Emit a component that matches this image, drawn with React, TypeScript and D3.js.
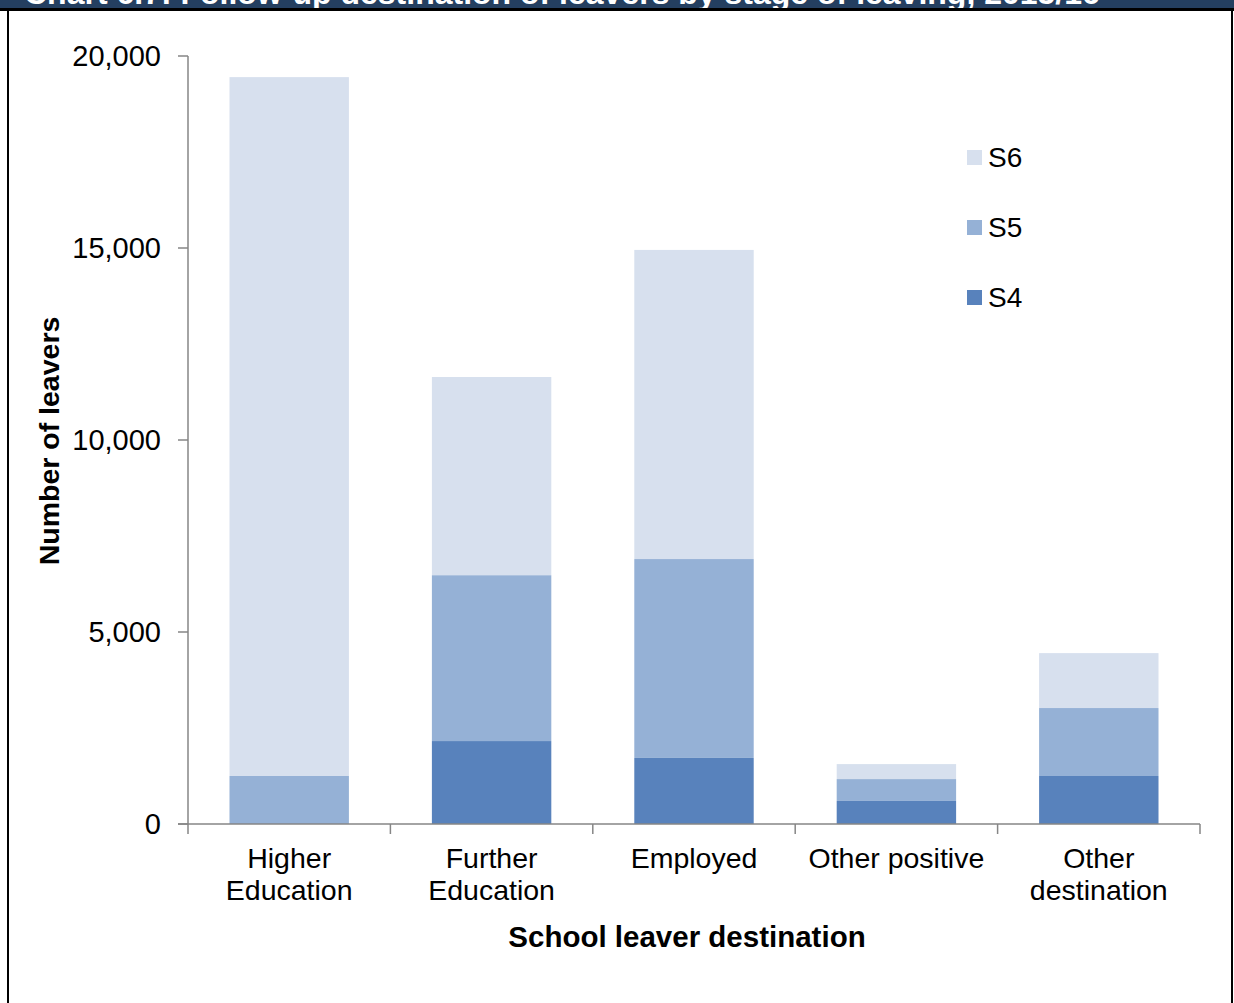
import React from "react";
import * as d3 from "d3";

// Follow-up destinations of school leavers, split by stage of leaving
const categories = [
  ["Higher", "Education"],
  ["Further", "Education"],
  ["Employed"],
  ["Other positive"],
  ["Other", "destination"],
];
const categoryKeys = ["Higher Education", "Further Education", "Employed", "Other positive", "Other destination"];
const seriesNames = ["S4", "S5", "S6"];
const s4Values = [0, 2160, 1720, 600, 1250];
const s5Values = [1250, 4320, 5180, 570, 1770];
const s6Values = [18200, 5160, 8050, 390, 1430];
const yTicks = [0, 5000, 10000, 15000, 20000];
const seriesColors = ["#5882bc", "#95b1d6", "#d7e0ee"];

const W = 1234;
const H = 1003;
const FONT = "'Liberation Sans', Arial, sans-serif";

export default function App() {
  const x0 = 188;
  const x1 = 1200;
  const yTop = 56;
  const yBottom = 824;

  const x = d3.scaleBand<string>().domain(categoryKeys).range([x0, x1]).paddingInner(0.41).paddingOuter(0.205);
  const y = d3.scaleLinear().domain([0, 20000]).range([yBottom, yTop]);

  const rows = categoryKeys.map((k, i) => ({ key: k, S4: s4Values[i], S5: s5Values[i], S6: s6Values[i] }));
  const stacked = d3.stack<any>().keys(seriesNames)(rows);
  const fmt = d3.format(",");
  const step = (x1 - x0) / categoryKeys.length;
  const boundaries = d3.range(categoryKeys.length + 1).map((i) => x0 + i * step);

  const legendItems = [...seriesNames].reverse();

  return (
    <svg width={W} height={H} style={{ display: "block", position: "absolute", left: 0, top: 0 }} fontFamily={FONT}>
      <rect x={0} y={0} width={W} height={H} fill="#ffffff" />
      {/* title bar */}
      <rect x={0} y={0} width={W} height={9} fill="#243f60" />
      <text x={24} y={4} fill="#ffffff" fontSize={32} fontWeight="bold">
        Chart 6.7: Follow-up destination of leavers by stage of leaving, 2015/16
      </text>
      <rect x={0} y={8} width={W} height={3} fill="#000000" />
      <rect x={7} y={8} width={2} height={H - 8} fill="#000000" />
      <rect x={1231} y={8} width={2} height={H - 8} fill="#000000" />

      {/* bars */}
      {stacked.map((layer, si) => (
        <g key={seriesNames[si]} fill={seriesColors[si]}>
          {layer.map((d, i) => (
            <rect
              key={i}
              x={x(categoryKeys[i])}
              y={y(d[1])}
              width={x.bandwidth()}
              height={Math.max(0, y(d[0]) - y(d[1]))}
            />
          ))}
        </g>
      ))}

      {/* y axis */}
      <line x1={x0} x2={x0} y1={yTop} y2={yBottom} stroke="#868686" strokeWidth={1.5} />
      {yTicks.map((t) => (
        <g key={t}>
          <line x1={178} x2={x0} y1={y(t)} y2={y(t)} stroke="#868686" strokeWidth={1.5} />
          <text x={161} y={y(t) + 10} textAnchor="end" fontSize={29} fill="#000">
            {fmt(t)}
          </text>
        </g>
      ))}

      {/* x axis */}
      <line x1={178} x2={x1} y1={yBottom} y2={yBottom} stroke="#868686" strokeWidth={1.5} />
      {boundaries.map((b, i) => (
        <line key={i} x1={b} x2={b} y1={yBottom} y2={yBottom + 10} stroke="#868686" strokeWidth={1.5} />
      ))}
      {categories.map((lines, i) => (
        <text key={i} textAnchor="middle" fontSize={28.5} fill="#000">
          {lines.map((l, j) => (
            <tspan key={j} x={(x(categoryKeys[i]) as number) + x.bandwidth() / 2} y={868 + j * 32}>
              {l}
            </tspan>
          ))}
        </text>
      ))}

      {/* axis titles */}
      <text x={687} y={947} textAnchor="middle" fontSize={29.5} fontWeight="bold" fill="#000">
        School leaver destination
      </text>
      <text
        transform={`translate(59, 441) rotate(-90)`}
        textAnchor="middle"
        fontSize={28.5}
        fontWeight="bold"
        fill="#000"
      >
        Number of leavers
      </text>

      {/* legend */}
      {legendItems.map((name, i) => {
        const cy = 157 + i * 70;
        return (
          <g key={name}>
            <rect x={967} y={cy - 7} width={15} height={15} fill={seriesColors[seriesNames.indexOf(name)]} />
            <text x={988} y={cy + 10} fontSize={28} fill="#000">
              {name}
            </text>
          </g>
        );
      })}
    </svg>
  );
}
